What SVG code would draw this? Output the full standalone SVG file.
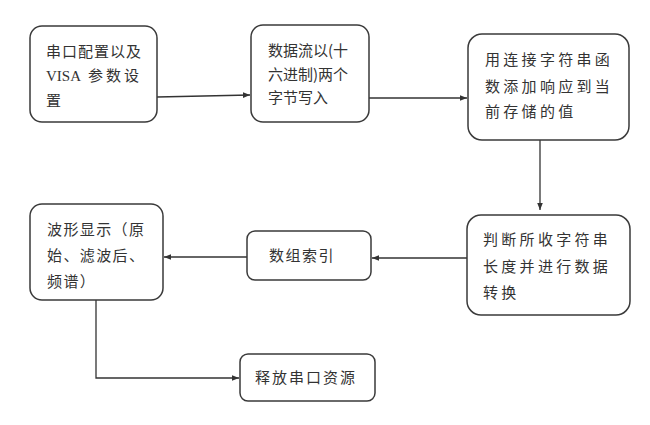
<svg xmlns="http://www.w3.org/2000/svg" width="650" height="425" viewBox="0 0 650 425">
<style>
.box{fill:#fff;stroke:#3a3a3a;stroke-width:1.5}
.t{font-family:"Noto Sans CJK SC","Noto Sans",sans-serif;font-size:15px;fill:#333}
.s{font-family:"Liberation Serif",serif;font-size:15px;fill:#333}
.c{fill:none;stroke:#333;stroke-width:1.3}
</style>
<defs>
<marker id="ah" viewBox="0 0 10 10" refX="10" refY="5" markerWidth="7" markerHeight="7" markerUnits="userSpaceOnUse" orient="auto">
<path d="M0,1 L10,5 L0,9 z" fill="#333"/>
</marker>
</defs>
<rect width="650" height="425" fill="#fff"/>
<g id="connectors">
<path class="c" d="M157,97 L250,95" marker-end="url(#ah)"/>
<path class="c" d="M369,98 L467,98" marker-end="url(#ah)"/>
<path class="c" d="M540,140 L540,210" marker-end="url(#ah)"/>
<path class="c" d="M467,258 L372,258" marker-end="url(#ah)"/>
<path class="c" d="M247,257 L164,257" marker-end="url(#ah)"/>
<path class="c" d="M96,300 L96,378 L239,378" marker-end="url(#ah)"/>
</g>
<g id="n1">
<rect class="box" x="30" y="26" width="127" height="96" rx="12"/>
<text class="t" x="46" y="57" letter-spacing="1">串口配置以及</text>
<text class="s" x="46" y="81">VISA</text>
<text class="t" x="88" y="81" letter-spacing="3">参数设</text>
<text class="t" x="46" y="106">置</text>
</g>
<g id="n2">
<rect class="box" x="251" y="25" width="118" height="97" rx="12"/>
<text class="t" x="268" y="56">数据流以(十</text>
<text class="t" x="268" y="80">六进制)两个</text>
<text class="t" x="268" y="103">字节写入</text>
</g>
<g id="n3">
<rect class="box" x="468" y="34" width="161" height="106" rx="14"/>
<text class="t" x="485" y="65" letter-spacing="3.3">用连接字符串函</text>
<text class="t" x="485" y="92" letter-spacing="3.3">数添加响应到当</text>
<text class="t" x="485" y="117" letter-spacing="3.3">前存储的值</text>
</g>
<g id="n4">
<rect class="box" x="467" y="215" width="163" height="100" rx="14"/>
<text class="t" x="483" y="245" letter-spacing="3.3">判断所收字符串</text>
<text class="t" x="483" y="272" letter-spacing="3.3">长度并进行数据</text>
<text class="t" x="483" y="298" letter-spacing="3.3">转换</text>
</g>
<g id="n5">
<rect class="box" x="247" y="231" width="124" height="49" rx="8"/>
<text class="t" x="269" y="261" letter-spacing="1.5">数组索引</text>
</g>
<g id="n6">
<rect class="box" x="30" y="204" width="133" height="96" rx="12"/>
<text class="t" x="47" y="235" letter-spacing="1.4">波形显示（原</text>
<text class="t" x="47" y="261" letter-spacing="1.4">始、滤波后、</text>
<text class="t" x="47" y="287" letter-spacing="1.4">频谱）</text>
</g>
<g id="n7">
<rect class="box" x="240" y="354" width="135" height="47" rx="8"/>
<text class="t" x="255" y="383" letter-spacing="2">释放串口资源</text>
</g>
</svg>
